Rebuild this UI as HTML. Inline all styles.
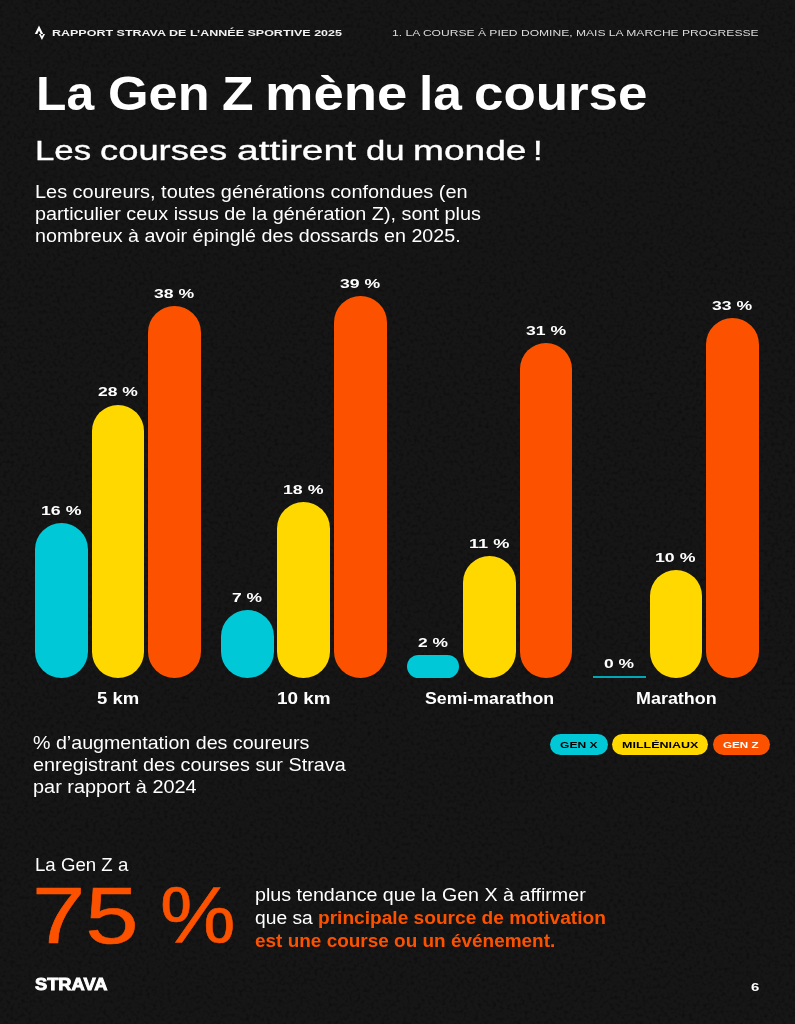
<!DOCTYPE html>
<html lang="fr">
<head>
<meta charset="utf-8">
<title>Rapport Strava de l’année sportive 2025 – La Gen Z mène la course</title>
<style>
html,body{margin:0;padding:0;background:#161616;}
body{width:795px;height:1024px;position:relative;overflow:hidden;font-family:"Liberation Sans",Arial,sans-serif;color:#fff;}
header,main,section,figure,figcaption,footer,h1,h2,p,ul,li,div{margin:0;padding:0;}
ul,li{list-style:none;}
.t{position:absolute;white-space:nowrap;line-height:1;transform-origin:0 0;display:block;margin:0;padding:0;}
.t b{color:#fc5200;font-weight:700;}
.bar{position:absolute;border-radius:27px;}
.pill{position:absolute;top:733.8px;height:21.4px;border-radius:11px;display:block;}
svg{position:absolute;}
.grain{left:0;top:0;pointer-events:none;}
</style>
</head>
<body>
<svg class="grain" width="795" height="1024" aria-hidden="true"><filter id="n" x="0" y="0" width="100%" height="100%"><feTurbulence type="fractalNoise" baseFrequency="0.28" numOctaves="2" seed="7"/><feColorMatrix values="0 0 0 0 0  0 0 0 0 0  0 0 0 0 0  2.6 0 0 0 -1.22"/></filter><rect width="795" height="1024" filter="url(#n)" opacity="0.32"/></svg>
<header>
<svg width="20" height="20" viewBox="30 22 20 20" style="left:30px;top:22px" aria-hidden="true"><path transform="translate(32.72 25.6) scale(0.6)" d="M15.387 17.944l-2.089-4.116h-3.065L15.387 24l5.15-10.172h-3.066m-7.008-5.599l2.836 5.598h4.172L10.463 0l-7 13.828h4.169" fill="#fff"/></svg>
<span class="t" id="hl" style="left:52.15px;top:28.00px;font-size:9.6px;font-weight:700;color:#f2f2f2;transform:scaleX(1.3021);">RAPPORT STRAVA DE L’ANNÉE SPORTIVE 2025</span>
<span class="t" id="hr" style="left:392.17px;top:28.00px;font-size:9.5px;font-weight:400;color:#dcdcdc;transform:scaleX(1.2717);">1. LA COURSE À PIED DOMINE, MAIS LA MARCHE PROGRESSE</span>
</header>
<main>
<h1>
<span class="t" id="h10" style="left:36.00px;top:70.00px;font-size:47.8px;font-weight:700;color:#fff;transform:scaleX(1.0411);">La</span>
<span class="t" id="h11" style="left:107.92px;top:70.00px;font-size:47.8px;font-weight:700;color:#fff;transform:scaleX(1.0922);">Gen</span>
<span class="t" id="h12" style="left:221.62px;top:70.00px;font-size:47.8px;font-weight:700;color:#fff;transform:scaleX(1.0803);">Z</span>
<span class="t" id="h13" style="left:264.80px;top:70.00px;font-size:47.8px;font-weight:700;color:#fff;transform:scaleX(1.1394);">mène</span>
<span class="t" id="h14" style="left:418.65px;top:70.00px;font-size:47.8px;font-weight:700;color:#fff;transform:scaleX(1.0761);">la</span>
<span class="t" id="h15" style="left:473.97px;top:70.00px;font-size:47.8px;font-weight:700;color:#fff;transform:scaleX(1.1064);">course</span>
</h1>
<h2>
<span class="t" id="h20" style="left:35.17px;top:136.00px;font-size:28.2px;font-weight:400;color:#fff;transform:scaleX(1.2357);-webkit-text-stroke:0.35px #fff;">Les</span>
<span class="t" id="h21" style="left:99.95px;top:136.00px;font-size:28.2px;font-weight:400;color:#fff;transform:scaleX(1.2894);-webkit-text-stroke:0.35px #fff;">courses</span>
<span class="t" id="h22" style="left:236.54px;top:136.00px;font-size:28.2px;font-weight:400;color:#fff;transform:scaleX(1.3806);-webkit-text-stroke:0.35px #fff;">attirent</span>
<span class="t" id="h23" style="left:366.33px;top:136.00px;font-size:28.2px;font-weight:400;color:#fff;transform:scaleX(1.2311);-webkit-text-stroke:0.35px #fff;">du</span>
<span class="t" id="h24" style="left:412.72px;top:136.00px;font-size:28.2px;font-weight:400;color:#fff;transform:scaleX(1.3168);-webkit-text-stroke:0.35px #fff;">monde</span>
<span class="t" id="h25" style="left:533.34px;top:136.00px;font-size:28.2px;font-weight:400;color:#fff;transform:scaleX(1.2242);-webkit-text-stroke:0.35px #fff;">!</span>
</h2>
<p>
<span class="t" id="p1" style="left:34.73px;top:183.00px;font-size:18.7px;font-weight:400;color:#fff;transform:scaleX(1.0650);">Les coureurs, toutes générations confondues (en</span>
<span class="t" id="p2" style="left:35.02px;top:205.00px;font-size:18.7px;font-weight:400;color:#fff;transform:scaleX(1.0598);">particulier ceux issus de la génération Z), sont plus</span>
<span class="t" id="p3" style="left:35.00px;top:227.00px;font-size:18.7px;font-weight:400;color:#fff;transform:scaleX(1.0533);">nombreux à avoir épinglé des dossards en 2025.</span>
</p>
<figure>
<div class="group">
<div class="bar" style="left:35.1px;top:523.4px;width:52.8px;height:154.2px;background:#00c8d7"></div>
<span class="t" id="l00" style="left:40.95px;top:504.00px;font-size:13.6px;font-weight:700;color:#fff;transform:scaleX(1.3039);">16 %</span>
<div class="bar" style="left:91.7px;top:404.5px;width:52.8px;height:273.1px;background:#ffd800"></div>
<span class="t" id="l01" style="left:98.07px;top:385.00px;font-size:13.6px;font-weight:700;color:#fff;transform:scaleX(1.2869);">28 %</span>
<div class="bar" style="left:148.3px;top:305.9px;width:52.8px;height:371.7px;background:#fc5200"></div>
<span class="t" id="l02" style="left:154.38px;top:287.00px;font-size:13.6px;font-weight:700;color:#fff;transform:scaleX(1.2963);">38 %</span>
<span class="t" id="c0" style="left:97.26px;top:691.00px;font-size:15.9px;font-weight:700;color:#fff;transform:scaleX(1.1647);">5 km</span>
</div>
<div class="group">
<div class="bar" style="left:220.8px;top:609.9px;width:52.8px;height:67.7px;background:#00c8d7"></div>
<span class="t" id="l10" style="left:232.14px;top:591.00px;font-size:13.6px;font-weight:700;color:#fff;transform:scaleX(1.2844);">7 %</span>
<div class="bar" style="left:277.4px;top:501.5px;width:52.8px;height:176.1px;background:#ffd800"></div>
<span class="t" id="l11" style="left:283.25px;top:483.00px;font-size:13.6px;font-weight:700;color:#fff;transform:scaleX(1.3039);">18 %</span>
<div class="bar" style="left:334.0px;top:295.8px;width:52.8px;height:381.8px;background:#fc5200"></div>
<span class="t" id="l12" style="left:340.08px;top:277.00px;font-size:13.6px;font-weight:700;color:#fff;transform:scaleX(1.2963);">39 %</span>
<span class="t" id="c1" style="left:276.91px;top:691.00px;font-size:15.9px;font-weight:700;color:#fff;transform:scaleX(1.1900);">10 km</span>
</div>
<div class="group">
<div class="bar" style="left:406.5px;top:655.2px;width:52.8px;height:22.4px;background:#00c8d7"></div>
<span class="t" id="l20" style="left:417.97px;top:636.00px;font-size:13.6px;font-weight:700;color:#fff;transform:scaleX(1.2786);">2 %</span>
<div class="bar" style="left:463.1px;top:555.8px;width:52.8px;height:121.8px;background:#ffd800"></div>
<span class="t" id="l21" style="left:468.92px;top:537.00px;font-size:13.6px;font-weight:700;color:#fff;transform:scaleX(1.3389);">11 %</span>
<div class="bar" style="left:519.7px;top:343.4px;width:52.8px;height:334.2px;background:#fc5200"></div>
<span class="t" id="l22" style="left:525.78px;top:324.00px;font-size:13.6px;font-weight:700;color:#fff;transform:scaleX(1.2963);">31 %</span>
<span class="t" id="c2" style="left:425.11px;top:691.00px;font-size:15.9px;font-weight:700;color:#fff;transform:scaleX(1.1157);">Semi-marathon</span>
</div>
<div class="group">
<div class="bar" style="left:593.0px;top:676.1px;width:52.8px;height:1.9px;background:#00a8b5;border-radius:0"></div>
<span class="t" id="l30" style="left:604.37px;top:657.00px;font-size:13.6px;font-weight:700;color:#fff;transform:scaleX(1.2830);">0 %</span>
<div class="bar" style="left:649.6px;top:569.8px;width:52.8px;height:107.8px;background:#ffd800"></div>
<span class="t" id="l31" style="left:655.45px;top:551.00px;font-size:13.6px;font-weight:700;color:#fff;transform:scaleX(1.3039);">10 %</span>
<div class="bar" style="left:706.2px;top:317.7px;width:52.8px;height:359.9px;background:#fc5200"></div>
<span class="t" id="l32" style="left:712.28px;top:299.00px;font-size:13.6px;font-weight:700;color:#fff;transform:scaleX(1.2963);">33 %</span>
<span class="t" id="c3" style="left:635.61px;top:691.00px;font-size:15.9px;font-weight:700;color:#fff;transform:scaleX(1.1284);">Marathon</span>
</div>
<figcaption>
<span class="t" id="q1" style="left:33.42px;top:734.00px;font-size:18.2px;font-weight:400;color:#fff;transform:scaleX(1.0800);">% d’augmentation des coureurs</span>
<span class="t" id="q2" style="left:33.26px;top:756.00px;font-size:18.2px;font-weight:400;color:#fff;transform:scaleX(1.0891);">enregistrant des courses sur Strava</span>
<span class="t" id="q3" style="left:32.82px;top:778.00px;font-size:18.2px;font-weight:400;color:#fff;transform:scaleX(1.0938);">par rapport à 2024</span>
</figcaption>
<ul class="legend">
<li><i class="pill" style="left:550.0px;width:58.0px;background:#00c8d7"></i><span class="t" id="k0" style="left:559.67px;top:740.00px;font-size:9.5px;font-weight:700;color:#000;transform:scaleX(1.2708);">GEN X</span></li>
<li><i class="pill" style="left:611.8px;width:96.7px;background:#ffd800"></i><span class="t" id="k1" style="left:622.24px;top:740.00px;font-size:9.5px;font-weight:700;color:#000;transform:scaleX(1.3162);">MILLÉNIAUX</span></li>
<li><i class="pill" style="left:712.7px;width:57.3px;background:#fc5200"></i><span class="t" id="k2" style="left:722.69px;top:740.00px;font-size:9.5px;font-weight:700;color:#fff;transform:scaleX(1.2254);">GEN Z</span></li>
</ul>
</figure>
<section class="stat">
<div class="t" id="g1" style="left:35.03px;top:855.00px;font-size:19px;font-weight:400;color:#fff;transform:scaleX(0.9812);">La Gen Z a</div>
<div class="num">
<span class="t" id="big" style="left:32.12px;top:876.00px;font-size:79.5px;font-weight:400;color:#fc5200;transform:scaleX(1.2050);-webkit-text-stroke:0.6px #fc5200;">75</span>
<span class="t" id="big2" style="left:159.87px;top:876.00px;font-size:79.5px;font-weight:400;color:#fc5200;transform:scaleX(1.0682);-webkit-text-stroke:0.6px #fc5200;">%</span>
</div>
<p>
<span class="t" id="r1" style="left:254.74px;top:886.00px;font-size:18.3px;font-weight:400;color:#fff;transform:scaleX(1.0752);">plus tendance que la Gen X à affirmer</span>
<span class="t" id="r2" style="left:255.20px;top:909.00px;font-size:18.3px;font-weight:400;color:#fff;transform:scaleX(1.0516);">que sa</span>
<span class="t" id="r2b" style="left:317.95px;top:909.00px;font-size:18.3px;font-weight:400;color:#fff;transform:scaleX(1.0456);"><b>principale source de motivation</b></span>
<span class="t" id="r3" style="left:255.25px;top:932.00px;font-size:18.3px;font-weight:400;color:#fff;transform:scaleX(1.0370);"><b>est une course ou un événement.</b></span>
</p>
</section>
</main>
<footer>
<span class="t" id="logo" style="left:35.41px;top:976.00px;font-size:17px;font-weight:700;color:#fff;transform:scaleX(1.0752);-webkit-text-stroke:0.9px #fff;">STRAVA</span>
<span class="t" id="pg" style="left:750.68px;top:982.00px;font-size:11.4px;font-weight:700;color:#fff;transform:scaleX(1.3105);">6</span>
</footer>
</body>
</html>
